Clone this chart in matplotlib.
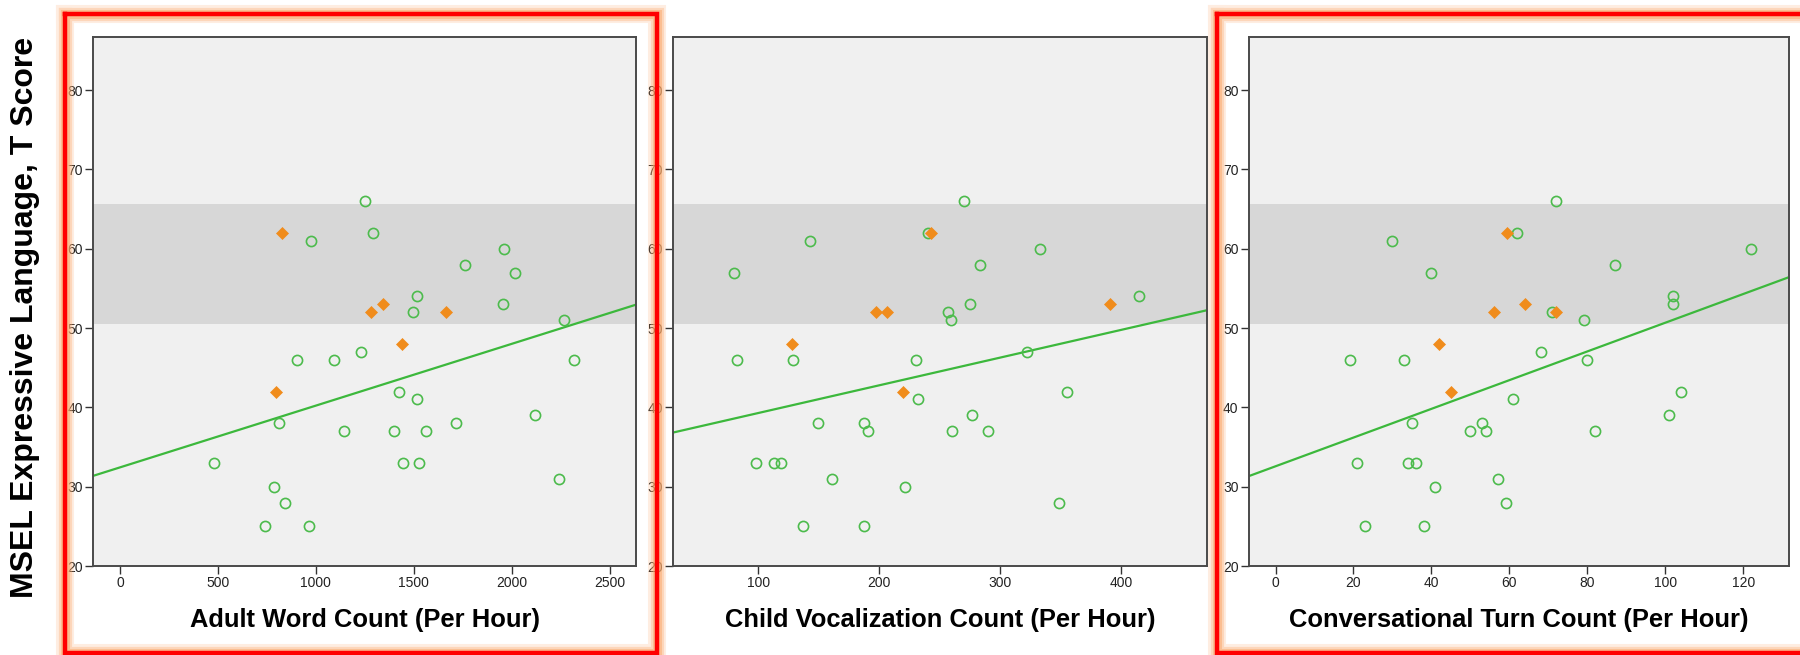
import numpy as np
import matplotlib
matplotlib.use("Agg")
import matplotlib.pyplot as plt
from matplotlib.lines import Line2D

plt.rcParams["font.family"] = ["Liberation Sans", "DejaVu Sans"]

# MSEL expressive language T scores (same children in every panel)
t_main = [66, 61, 62, 60, 58, 57, 54, 52, 53, 51, 47, 46, 46, 46, 42,
          41, 39, 38, 38, 37, 37, 37, 33, 33, 33, 31, 30, 28, 25, 25]
t_flag = [62, 52, 53, 52, 48, 42]

# LENA counts per hour, main group then flagged group
awc_main = [1253, 974, 1292, 1960, 1761, 2018, 1515, 1498, 1956, 2266,
            1232, 905, 1092, 2319, 1425, 1515, 2117, 810, 1715, 1146,
            1399, 1565, 479, 1445, 1526, 2242, 785, 841, 742, 967]
awc_flag = [825, 1281, 1344, 1666, 1442, 795]

cvc_main = [270, 143, 240, 333, 283, 80, 415, 257, 275, 259,
            322, 82, 129, 230, 355, 232, 277, 149, 187, 191,
            260, 290, 98, 113, 119, 161, 221, 349, 137, 187]
cvc_flag = [243, 197, 391, 206, 128, 220]

ctc_main = [72, 30, 62, 122, 87, 40, 102, 71, 102, 79,
            68, 19, 33, 80, 104, 61, 101, 35, 53, 50,
            54, 82, 21, 34, 36, 57, 41, 59, 23, 38]
ctc_flag = [59.4, 56, 64, 72, 42, 45]

x_titles = ["Adult Word Count (Per Hour)",
            "Child Vocalization Count (Per Hour)",
            "Conversational Turn Count (Per Hour)"]
x_limits = [(-136, 2635), (29.6, 471.2), (-6.8, 131.8)]
x_ticks = [np.arange(0, 2501, 500), np.arange(100, 401, 100), np.arange(0, 121, 20)]
y_limits = (20, 86.7)
y_ticks = np.arange(20, 81, 10)
avg_band = (50.5, 65.7)

panels = [
    (awc_main, awc_flag),
    (cvc_main, cvc_flag),
    (ctc_main, ctc_flag),
]

GREEN = "#4cbb4c"
LINE_GREEN = "#3cb83c"
ORANGE = "#f08c1c"
FRAME = "#4a4a4a"

fig = plt.figure(figsize=(18, 6.55), dpi=100)
fig.patch.set_facecolor("white")

W, H = 1800, 655
ax_px = [(93.4, 636.0), (673.3, 1207.1), (1249.0, 1789.4)]
top_px, bot_px = 37, 566

for i, (xm, xf) in enumerate(panels):
    l, r = ax_px[i]
    ax = fig.add_axes([l / W, 1 - bot_px / H, (r - l) / W, (bot_px - top_px) / H])
    ax.set_facecolor("#f0f0f0")
    ax.axhspan(*avg_band, color="#d7d7d7", lw=0, zorder=0.5)

    # linear fit for the main group
    slope, icpt = np.polyfit(np.array(xm, float), np.array(t_main, float), 1)
    xx = np.array(x_limits[i])
    ax.plot(xx, icpt + slope * xx, color=LINE_GREEN, lw=1.6, zorder=2)

    ax.plot(xm, t_main, "o", ms=7.3, mfc="none", mec=GREEN, mew=1.2, zorder=3)
    ax.plot(xf, t_flag, "D", ms=6.3, mfc=ORANGE, mec=ORANGE, mew=0.5, zorder=4)

    ax.set_xlim(x_limits[i])
    ax.set_ylim(y_limits)
    ax.set_xticks(x_ticks[i])
    ax.set_yticks(y_ticks)
    ax.tick_params(direction="out", length=5.5, width=1.0, color="#333333",
                   labelsize=10, labelcolor="#222222", pad=2,
                   top=False, right=False)
    for sp in ax.spines.values():
        sp.set_color(FRAME)
        sp.set_linewidth(1.4)
    ax.set_xlabel(x_titles[i], fontsize=18.4, fontweight="bold", color="black")
    ax.xaxis.set_label_coords(0.5, -(620 - bot_px) / (bot_px - top_px))
    ax.xaxis.label.set_va("center")

fig.text(25 / W, 1 - 317 / H, "MSEL Expressive Language, T Score",
         rotation=90, ha="center", va="center", fontsize=23, fontweight="bold")


def glow_box(x0, x1, y0, y1):
    xs = np.array([x0, x1, x1, x0, x0]) / W
    ys = 1 - np.array([y0, y0, y1, y1, y0]) / H
    for lw, a in [(13, 0.2), (9.5, 0.32), (6.5, 0.5)]:
        fig.add_artist(Line2D(xs, ys, color="#fba86a", lw=lw, alpha=a,
                              solid_joinstyle="miter", zorder=10))
    fig.add_artist(Line2D(xs, ys, color="#ff0000", lw=3.2,
                          solid_joinstyle="miter", zorder=11))


glow_box(64.7, 656.5, 14, 652.5)
glow_box(1217, 1803, 14, 652.5)

fig.savefig("out.png", dpi=100, facecolor="white")
